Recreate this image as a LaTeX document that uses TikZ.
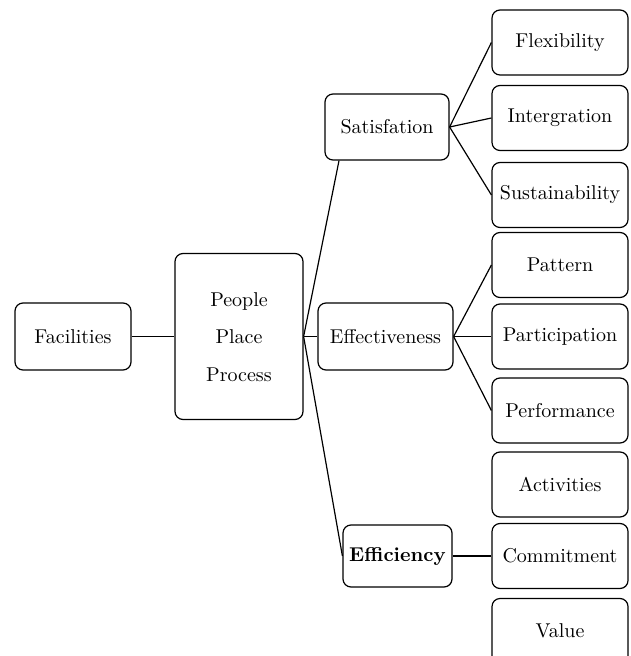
\documentclass[tikz,border=0pt]{standalone}
\usepackage{tikz}
\usetikzlibrary{shapes, positioning}
\tikzstyle{box} = [rectangle, rounded corners=4pt, draw=black, line width=0.6pt, fill=white, text centered, inner sep=2pt]
\tikzstyle{leaf} = [box, minimum width=68pt, minimum height=32.5pt]
\tikzstyle{line} = [-, line width=0.6pt]

\begin{document}
\begin{tikzpicture}[x=0.5pt, y=-0.5pt]

    \useasboundingbox (0, 0) rectangle (630, 656);

    \node (fac) [box, minimum width=58pt, minimum height=33.5pt] at (73, 336.5) {Facilities};
    \node (ppp) [box, minimum width=64pt, minimum height=83pt] at (239, 336.5) {\renewcommand{\arraystretch}{1.55}\begin{tabular}{c} People \\ Place \\ Process \end{tabular}};

    \node (sat) [box, minimum width=62pt, minimum height=33pt] at (387, 127) {Satisfation};
    \node (eff) [box, minimum width=67.5pt, minimum height=33.5pt] at (385.5, 336.5) {Effectiveness};
    \node (effi) [box, minimum width=54.5pt, minimum height=31pt] at (397.5, 556) {\textbf{Efficiency}};

    \node (flex) [leaf] at (560, 42.5) {Flexibility};
    \node (integ) [leaf] at (560, 118) {Intergration};
    \node (sust) [leaf] at (560, 195) {Sustainability};
    \node (pat) [leaf] at (560, 265) {Pattern};
    \node (part) [leaf] at (560, 336.5) {Participation};
    \node (perf) [leaf] at (560, 410.5) {Performance};
    \node (act) [leaf] at (560, 484.5) {Activities};
    \node (com) [leaf] at (560, 556) {Commitment};
    \node (val) [leaf] at (560, 631) {Value};

    \draw [line] (fac.east) -- (ppp.west);

    \draw [line] (ppp.east) -- (sat.215);
    \draw [line] (ppp.east) -- (eff.west);
    \draw [line] (ppp.east) -- (effi.west);

    \draw [line] (sat.east) -- (flex.west);
    \draw [line] (sat.east) -- (integ.west);
    \draw [line] (sat.east) -- (sust.west);

    \draw [line] (eff.east) -- (pat.west);
    \draw [line] (eff.east) -- (part.west);
    \draw [line] (eff.east) -- (perf.west);

    \draw [line] (effi.east) -- (com.west);

\end{tikzpicture}
\end{document}
